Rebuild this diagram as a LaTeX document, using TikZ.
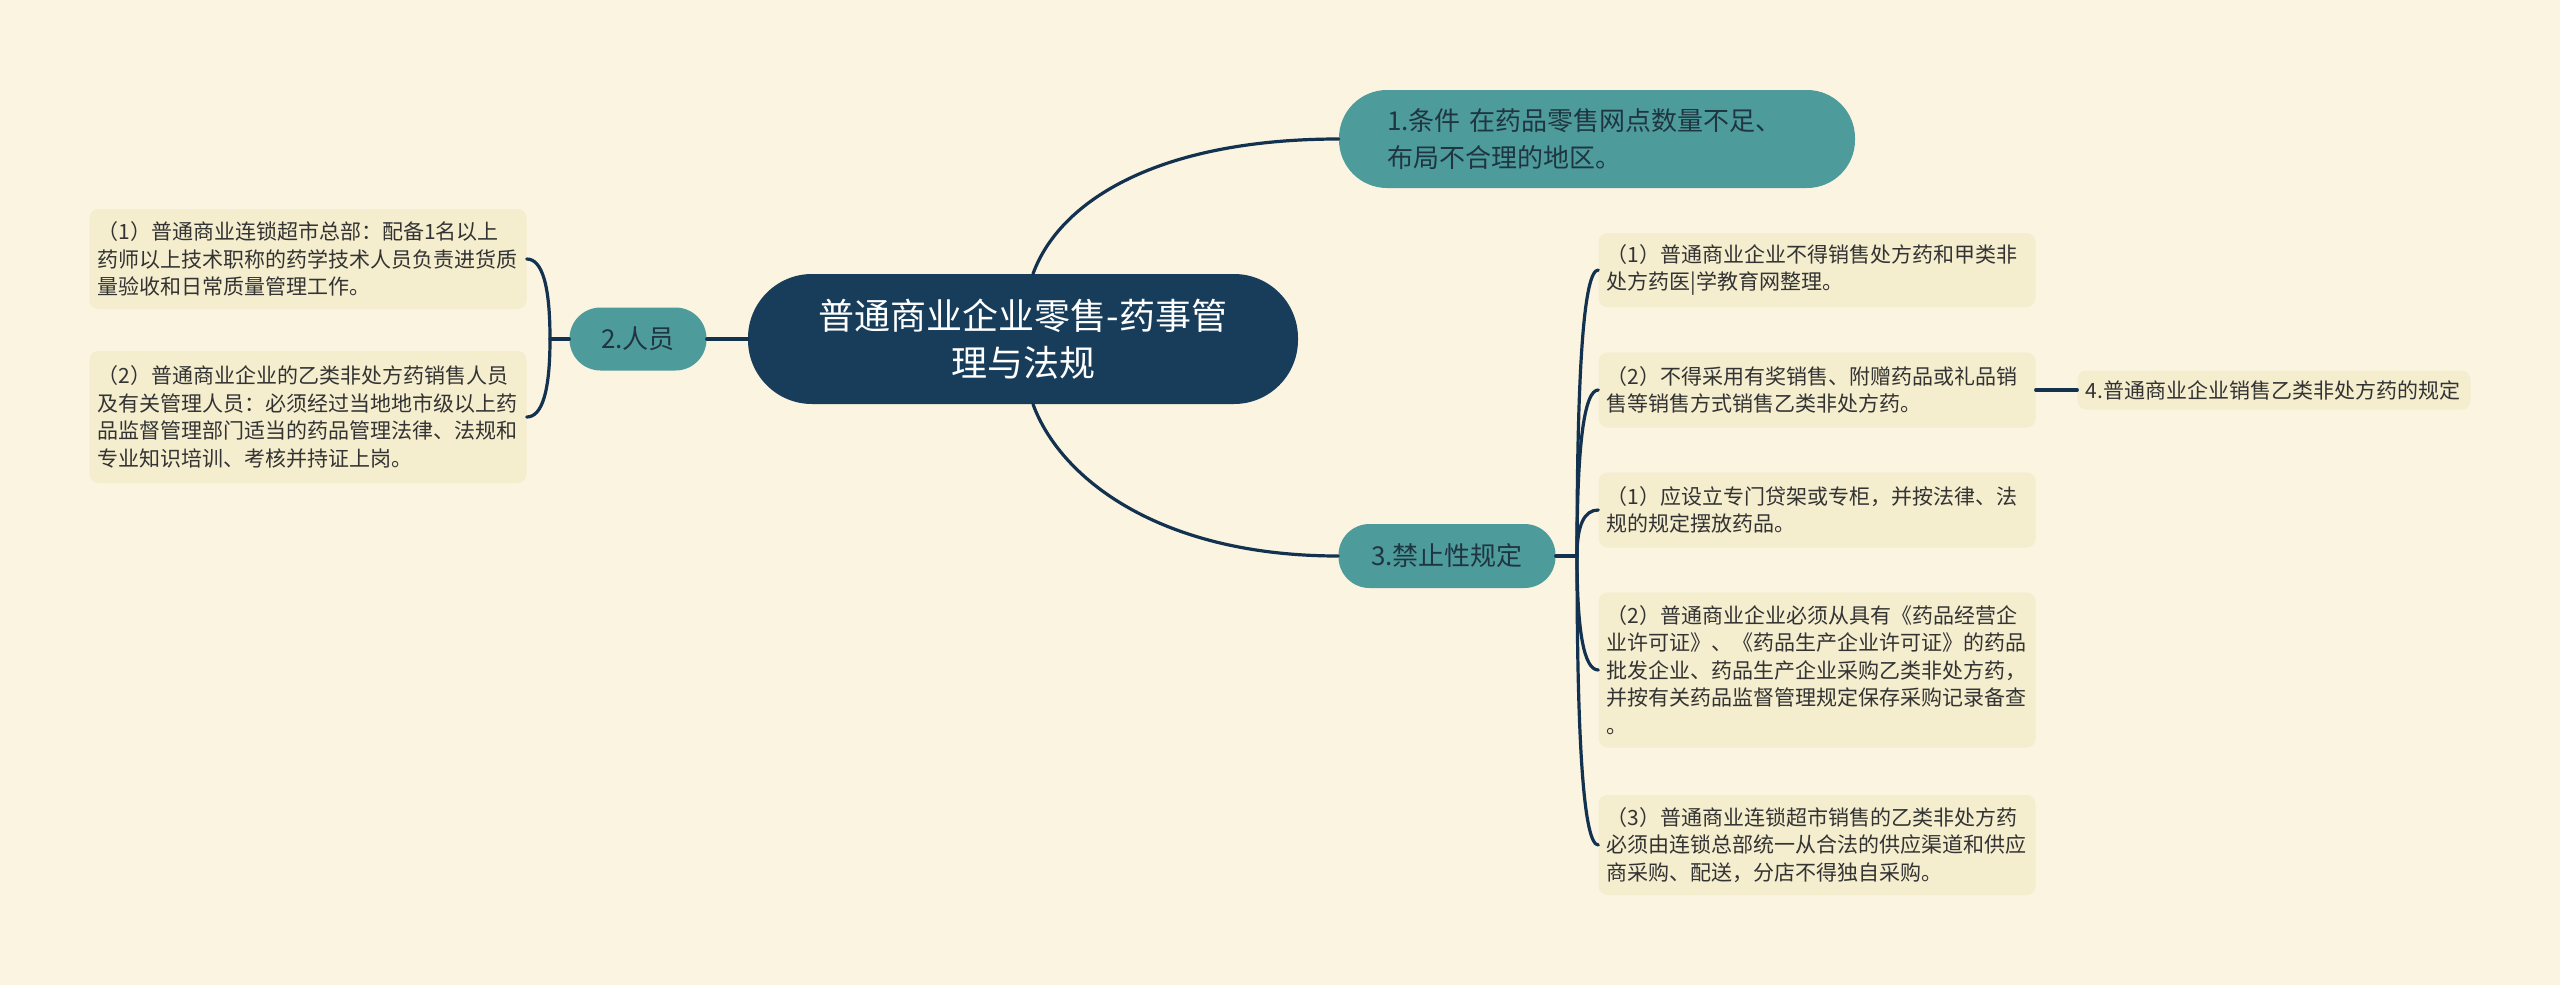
\documentclass[tikz,border=0pt]{standalone}
\usepackage{fontspec}
\setmainfont{Noto Sans CJK SC}
\usetikzlibrary{calc}
\definecolor{mapPaper}{HTML}{FAF4E1}
\definecolor{mapLeaf}{HTML}{F4EDCE}
\definecolor{mapTeal}{HTML}{4E9B9B}
\definecolor{mapNavy}{HTML}{173D5B}
\definecolor{mapLine}{HTML}{12324F}
\definecolor{mapInk}{HTML}{333333}
\definecolor{mapTealInk}{HTML}{1F3642}
\begin{document}
\begin{tikzpicture}[x=1pt,y=-1pt,line cap=round,line join=round]
\path[fill=mapPaper] (0,0) rectangle (2560,985);
\tikzset{wire/.style={draw=mapLine,line width=3.2pt},twig/.style={to path={.. controls ($(\tikztostart)!.667!(\tikztostart|-\tikztotarget)$) and ($(\tikztotarget)!.667!(\tikztostart|-\tikztotarget)$) .. (\tikztotarget)}},leaf/.style={fill=mapLeaf,rounded corners=9pt,text=mapInk,text width=421pt,align=left,inner xsep=8pt,inner ysep=0pt,font=\fontsize{21}{27.5}\selectfont},topic/.style={fill=mapTeal,text=mapTealInk,inner sep=0pt,font=\fontsize{26}{37.5}\selectfont}}
\node[fill=mapNavy,rounded corners=64pt,minimum width=550pt,minimum height=130pt,inner sep=0pt,text=white,align=center,font=\fontsize{36}{47}\selectfont] (root) at (1023,339) {普通商业企业零售-药事管\\理与法规};
\node[topic,rounded corners=48pt,minimum width=516pt,minimum height=98pt,text width=420pt,align=left] (n1) at (1597,139) {1.条件 在药品零售网点数量不足、\\布局不合理的地区。};
\node[topic,rounded corners=31pt,minimum width=137pt,minimum height=63pt] (n2) at (638,339) {2.人员};
\node[topic,rounded corners=31pt,minimum width=217pt,minimum height=64pt] (n3) at (1447,556) {3.禁止性规定};
\node[leaf,minimum height=100pt] (p1) at (308,259) {（1）普通商业连锁超市总部：配备1名以上\\药师以上技术职称的药学技术人员负责进货质\\量验收和日常质量管理工作。};
\node[leaf,minimum height=132pt] (p2) at (308,417) {（2）普通商业企业的乙类非处方药销售人员\\及有关管理人员：必须经过当地地市级以上药\\品监督管理部门适当的药品管理法律、法规和\\专业知识培训、考核并持证上岗。};
\node[leaf,minimum height=74pt] (r1) at (1817,270) {（1）普通商业企业不得销售处方药和甲类非\\处方药医|学教育网整理。};
\node[leaf,minimum height=75pt] (r2) at (1817,390) {（2）不得采用有奖销售、附赠药品或礼品销\\售等销售方式销售乙类非处方药。};
\node[leaf,minimum height=75pt] (r3) at (1817,510) {（1）应设立专门贷架或专柜，并按法律、法\\规的规定摆放药品。};
\node[leaf,minimum height=155pt] (r4) at (1817,670) {（2）普通商业企业必须从具有《药品经营企\\业许可证》、《药品生产企业许可证》的药品\\批发企业、药品生产企业采购乙类非处方药，\\并按有关药品监督管理规定保存采购记录备查\\。};
\node[leaf,minimum height=100pt] (r5) at (1817,845) {（3）普通商业连锁超市销售的乙类非处方药\\必须由连锁总部统一从合法的供应渠道和供应\\商采购、配送，分店不得独自采购。};
\node[leaf,text width=377pt,minimum height=39pt] (n4) at (2274,390) {4.普通商业企业销售乙类非处方药的规定};
\draw[wire] ([xshift=10pt]root.north) .. controls +(27,-74) and +(-179,0) .. (n1.west);
\draw[wire] ([xshift=10pt]root.south) .. controls +(27,74) and +(-179,0) .. (n3.west);
\draw[wire] (root.west) -- (n2.east);
\coordinate (j2) at (550,339);
\draw[wire] (n2.west) -- (j2);
\draw[wire] (j2) to[twig] (p1.east) (j2) to[twig] (p2.east);
\coordinate (j3) at (1577,556);
\draw[wire] (n3.east) -- (j3);
\foreach \leafname in {r1,r2,r3,r4,r5} \draw[wire] (j3) to[twig] (\leafname.west);
\draw[wire] (r2.east) -- (n4.west);
\end{tikzpicture}
\end{document}
